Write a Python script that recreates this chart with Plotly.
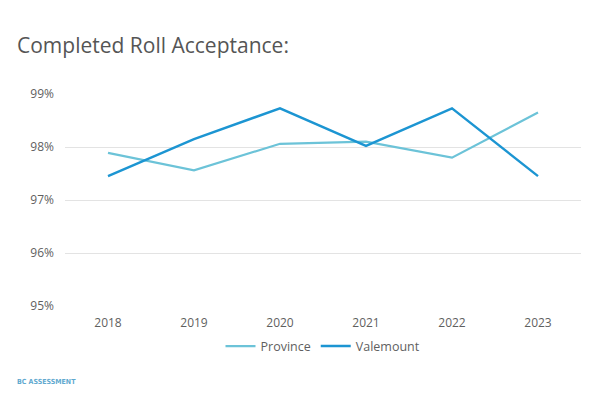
import plotly.graph_objects as go

years = ["2018", "2019", "2020", "2021", "2022", "2023"]
province = [0.9789, 0.9756, 0.9806, 0.9810, 0.9780, 0.9865]
valemount = [0.9745, 0.9815, 0.9873, 0.9802, 0.9873, 0.9745]
y_ticks = [0.95, 0.96, 0.97, 0.98, 0.99]

fig = go.Figure()
fig.add_trace(go.Scatter(x=years, y=province, name="Province", mode="lines",
                         line=dict(color="#6CC3D8", width=2.2)))
fig.add_trace(go.Scatter(x=years, y=valemount, name="Valemount", mode="lines",
                         line=dict(color="#1C95D2", width=2.4)))

# page body has an 8px default margin, compensate in the figure margins
fig.update_layout(
    width=612, height=396,
    margin=dict(l=57, r=39, t=86, b=98, autoexpand=False),
    paper_bgcolor="white", plot_bgcolor="white",
    font=dict(family="'Open Sans', sans-serif", color="#5f5f5f", size=12),
    showlegend=True,
    legend=dict(orientation="h", x=0.5, xanchor="center", y=-0.12, yanchor="top",
                font=dict(size=12.5, color="#5f5f5f"), itemwidth=30,
                tracegroupgap=0),
    annotations=[
        dict(text="Completed Roll Acceptance:", xref="paper", yref="paper",
             x=-50/516, y=1 + 49/211, xanchor="left", yanchor="middle",
             showarrow=False, font=dict(family="'Open Sans', sans-serif", size=21, color="#555555")),
        dict(text="<b>BC ASSESSMENT</b>", xref="paper", yref="paper",
             x=-50/516, y=-76/211, xanchor="left", yanchor="middle",
             showarrow=False, font=dict(family="'Liberation Sans Narrow', 'DejaVu Sans Condensed', sans-serif", size=7, color="#5FA9CF")),
    ],
)
fig.update_xaxes(type="category", showgrid=False, showline=False, ticks="",
                 automargin=False, ticklabelstandoff=8,
                 tickfont=dict(size=12, color="#5f5f5f"), range=[-0.5, 5.5])
fig.update_yaxes(range=[0.95, 0.99], tickvals=y_ticks, tickformat=".0%",
                 showgrid=True, gridcolor="#E3E3E3", gridwidth=1, zeroline=False,
                 showline=False, ticks="", ticklabelstandoff=10, automargin=False,
                 tickfont=dict(size=12, color="#5f5f5f"))

fig.write_html("out.html")
